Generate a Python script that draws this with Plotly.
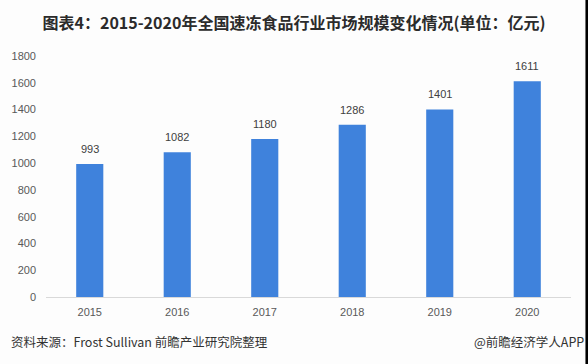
import plotly.graph_objects as go

years = ["2015", "2016", "2017", "2018", "2019", "2020"]
values = [993, 1082, 1180, 1286, 1401, 1611]
y_ticks = [0, 200, 400, 600, 800, 1000, 1200, 1400, 1600, 1800]

fig = go.Figure()
fig.add_trace(go.Bar(
    x=years, y=values,
    marker=dict(color="#3F82DC", line=dict(width=0)),
    hoverinfo="x+y",
))

# value labels above the bars (category axis: annotations use category index)
for i, v in enumerate(values):
    fig.add_annotation(
        x=i, y=v, text=str(v), showarrow=False,
        yanchor="bottom", yshift=7,
        font=dict(family="Liberation Sans, Arial", size=11, color="#404040"),
    )

W, H = 588, 364
L, R, T, B = 44, 17, 56, 67
PW, PH = W - L - R, H - T - B

fig.update_layout(
    width=W, height=H,
    margin=dict(l=L, r=R, t=T, b=B),
    paper_bgcolor="#FDFDFD", plot_bgcolor="#FDFDFD",
    bargap=0.69,
    showlegend=False,
    title=dict(
        text="<b>图表4：2015-2020年全国速冻食品行业市场规模变化情况(单位：亿元)</b>",
        x=0.5, xanchor="center", y=1 - 23 / H, yanchor="middle",
        font=dict(family="Noto Sans CJK SC", size=16, color="#2b2b2b"),
    ),
    font=dict(family="Liberation Sans, Arial", size=11, color="#595959"),
    xaxis=dict(
        type="category",
        showline=True, linecolor="#D9D9D9", linewidth=1,
        ticks="", tickfont=dict(size=11, color="#595959"),
        showgrid=False, ticklabelstandoff=5,
    ),
    yaxis=dict(
        range=[0, 1800], tickvals=y_ticks,
        showgrid=False, zeroline=False, showline=False,
        tickfont=dict(size=11, color="#595959"), ticklabelstandoff=9,
    ),
)

fy = -(341 - (H - B)) / PH
fig.add_annotation(
    text="资料来源：Frost Sullivan 前瞻产业研究院整理",
    xref="paper", yref="paper", x=(7 - L) / PW, y=fy,
    xanchor="left", yanchor="middle", showarrow=False,
    font=dict(family="Noto Sans CJK SC", size=12.5, color="#333333"),
)
fig.add_annotation(
    text="@前瞻经济学人APP",
    xref="paper", yref="paper", x=(586 - L) / PW, y=fy,
    xanchor="right", yanchor="middle", showarrow=False,
    font=dict(family="Noto Sans CJK SC", size=12.5, color="#333333"),
)
fig.add_shape(
    type="rect", xref="paper", yref="paper",
    x0=(585.5 - L) / PW, x1=(592 - L) / PW,
    y0=-(B + 5) / PH, y1=(PH + T + 5) / PH,
    fillcolor="#000000", line=dict(width=0), layer="above",
)

fig.write_html(
    "out.html",
    config={"displayModeBar": False},
    post_script="document.body.style.margin='0';document.body.style.overflow='hidden';",
)
